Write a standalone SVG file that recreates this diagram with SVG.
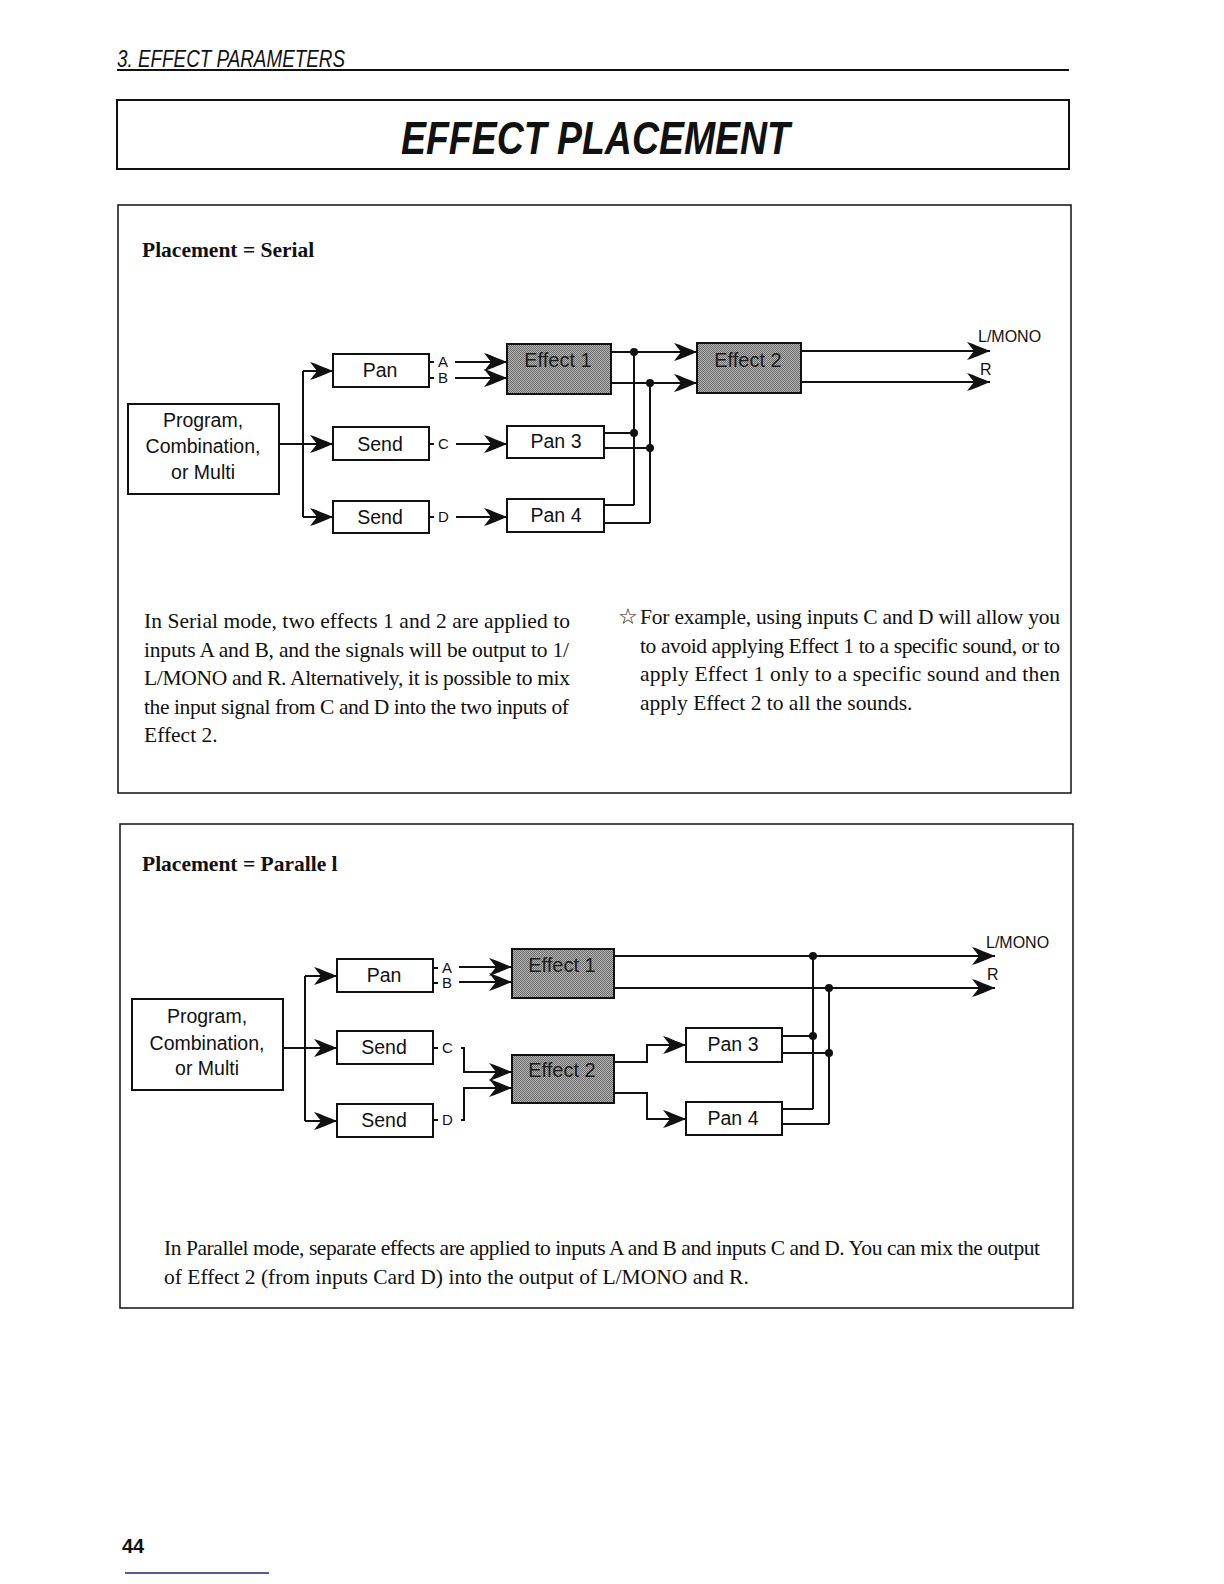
<svg xmlns="http://www.w3.org/2000/svg" width="1224" height="1584" viewBox="0 0 1224 1584">
<style>
.ln{fill:none;stroke:#111;stroke-width:2}
.bx{fill:#fff;stroke:#111;stroke-width:2}
.fx{fill:url(#dith);stroke:#111;stroke-width:2}
.lbl{font-family:"Liberation Sans",Arial,sans-serif;font-size:19.5px;fill:#111;text-anchor:middle}
.fxt{font-family:"Liberation Sans",Arial,sans-serif;font-size:20px;fill:#1e1e1e;text-anchor:middle}
.sm{font-family:"Liberation Sans",Arial,sans-serif;font-size:15px;fill:#111}
.out{font-family:"Liberation Sans",Arial,sans-serif;font-size:16px;fill:#111}
.body{font-family:"Liberation Serif","Times New Roman",serif;font-size:21.5px;fill:#111}
.hd{font-family:"Liberation Serif","Times New Roman",serif;font-size:21.5px;font-weight:bold;fill:#111}
.dot{fill:#111}
</style>
<defs>
<pattern id="dith" width="2" height="2" patternUnits="userSpaceOnUse">
<rect width="2" height="2" fill="#b0b0b0"/>
<rect width="1" height="1" fill="#707070"/>
<rect x="1" y="1" width="1" height="1" fill="#707070"/>
</pattern>
<marker id="arr" markerUnits="userSpaceOnUse" viewBox="-25 -11 27 22" refX="0" refY="0" markerWidth="27" markerHeight="22" orient="auto">
<path d="M0,0 C-8,-3 -16,-7 -23,-9 L-16,0 L-23,9 C-16,7 -8,3 0,0 Z" fill="#111"/>
</marker>
</defs>
<rect width="1224" height="1584" fill="#fff"/>

<g id="header">
<text x="117" y="67" font-family="'Liberation Sans',Arial,sans-serif" font-style="italic" font-size="23" textLength="228" lengthAdjust="spacingAndGlyphs" fill="#111">3. EFFECT PARAMETERS</text>
<line x1="117" y1="70" x2="1069" y2="70" stroke="#111" stroke-width="2"/>
<rect x="117" y="100" width="952" height="69" fill="none" stroke="#111" stroke-width="2"/>
<text x="401" y="154" font-family="'Liberation Sans',Arial,sans-serif" font-style="italic" font-weight="bold" font-size="46" textLength="389" lengthAdjust="spacingAndGlyphs" fill="#111">EFFECT PLACEMENT</text>
</g>

<!-- SERIAL -->
<g id="serial-panel">
<rect x="118" y="205" width="953" height="588" fill="none" stroke="#111" stroke-width="1.5"/>
<text class="hd" x="142" y="257">Placement = Serial</text>
</g>

<g id="serial-connectors">
<path class="ln" d="M303,371 V517"/>
<path class="ln" d="M303,371 H333" marker-end="url(#arr)"/>
<path class="ln" d="M279,444 H333" marker-end="url(#arr)"/>
<path class="ln" d="M303,517 H333" marker-end="url(#arr)"/>
<path class="ln" d="M429,362 h5 M429,378 h5 M429,444 h5 M429,517 h5"/>
<path class="ln" d="M455,362 H507" marker-end="url(#arr)"/>
<path class="ln" d="M455,378 H507" marker-end="url(#arr)"/>
<path class="ln" d="M456,444 H507" marker-end="url(#arr)"/>
<path class="ln" d="M456,517 H507" marker-end="url(#arr)"/>
<path class="ln" d="M611,352 H697" marker-end="url(#arr)"/>
<path class="ln" d="M611,383 H697" marker-end="url(#arr)"/>
<path class="ln" d="M634,352 V505 M650,383 V523"/>
<path class="ln" d="M604,433 H634 M604,448 H650 M604,505 H634 M604,523 H650"/>
<path class="ln" d="M801,351 H990" marker-end="url(#arr)"/>
<path class="ln" d="M801,382 H990" marker-end="url(#arr)"/>
<circle class="dot" cx="634" cy="352" r="4"/>
<circle class="dot" cx="650" cy="383" r="4"/>
<circle class="dot" cx="634" cy="433" r="4"/>
<circle class="dot" cx="650" cy="448" r="4"/>
<text class="sm" x="438" y="367">A</text>
<text class="sm" x="438" y="383">B</text>
<text class="sm" x="438" y="449">C</text>
<text class="sm" x="438" y="522">D</text>
<text class="out" x="978" y="342">L/MONO</text>
<text class="out" x="980" y="375">R</text>
</g>

<g id="s-program">
<rect class="bx" x="128" y="404" width="151" height="90"/>
<text class="lbl" x="203" y="427">Program,</text>
<text class="lbl" x="203" y="453">Combination,</text>
<text class="lbl" x="203" y="479">or Multi</text>
</g>
<g id="s-pan"><rect class="bx" x="333" y="354" width="96" height="33"/><text class="lbl" x="380" y="377">Pan</text></g>
<g id="s-send-c"><rect class="bx" x="333" y="427" width="96" height="33"/><text class="lbl" x="380" y="451">Send</text></g>
<g id="s-send-d"><rect class="bx" x="333" y="501" width="96" height="32"/><text class="lbl" x="380" y="524">Send</text></g>
<g id="s-effect1"><rect class="fx" x="507" y="344" width="104" height="50"/><text class="fxt" x="558" y="367">Effect 1</text></g>
<g id="s-pan3"><rect class="bx" x="507" y="426" width="97" height="32"/><text class="lbl" x="556" y="448">Pan 3</text></g>
<g id="s-pan4"><rect class="bx" x="507" y="499" width="97" height="33"/><text class="lbl" x="556" y="522">Pan 4</text></g>
<g id="s-effect2"><rect class="fx" x="697" y="343" width="104" height="50"/><text class="fxt" x="748" y="367">Effect 2</text></g>

<g id="serial-text">
<text class="body" x="144" y="628" textLength="426" lengthAdjust="spacing">In Serial mode, two effects 1 and 2 are applied to</text>
<text class="body" x="144" y="657" textLength="425" lengthAdjust="spacing">inputs A and B, and the signals will be output to 1/</text>
<text class="body" x="144" y="685" textLength="426" lengthAdjust="spacing">L/MONO and R. Alternatively, it is possible to mix</text>
<text class="body" x="144" y="714" textLength="425" lengthAdjust="spacing">the input signal from C and D into the two inputs of</text>
<text class="body" x="144" y="742">Effect 2.</text>
<text class="body" x="618" y="624">☆</text>
<text class="body" x="640" y="624" textLength="420" lengthAdjust="spacing">For example, using inputs C and D will allow you</text>
<text class="body" x="640" y="653" textLength="420" lengthAdjust="spacing">to avoid applying Effect 1 to a specific sound, or to</text>
<text class="body" x="640" y="681" textLength="420" lengthAdjust="spacing">apply Effect 1 only to a specific sound and then</text>
<text class="body" x="640" y="710">apply Effect 2 to all the sounds.</text>
</g>

<!-- PARALLEL -->
<g id="parallel-panel">
<rect x="120" y="824" width="953" height="484" fill="none" stroke="#111" stroke-width="1.5"/>
<text class="hd" x="142" y="871">Placement = Paralle l</text>
</g>

<g id="parallel-connectors">
<path class="ln" d="M305,976 V1121"/>
<path class="ln" d="M305,976 H337" marker-end="url(#arr)"/>
<path class="ln" d="M283,1048 H337" marker-end="url(#arr)"/>
<path class="ln" d="M305,1121 H337" marker-end="url(#arr)"/>
<path class="ln" d="M433,968 h5 M433,983 h5 M433,1048 h5 M433,1120 h5"/>
<path class="ln" d="M459,967 H512" marker-end="url(#arr)"/>
<path class="ln" d="M459,982 H512" marker-end="url(#arr)"/>
<path class="ln" d="M461,1048 H464 V1072 H512" marker-end="url(#arr)"/>
<path class="ln" d="M461,1120 H464 V1088 H512" marker-end="url(#arr)"/>
<path class="ln" d="M614,956 H995" marker-end="url(#arr)"/>
<path class="ln" d="M614,988 H995" marker-end="url(#arr)"/>
<path class="ln" d="M614,1062 H647 V1045 H686" marker-end="url(#arr)"/>
<path class="ln" d="M614,1093 H647 V1119 H686" marker-end="url(#arr)"/>
<path class="ln" d="M813,956 V1109 M829,988 V1124"/>
<path class="ln" d="M782,1036 H813 M782,1053 H829 M782,1109 H813 M782,1124 H829"/>
<circle class="dot" cx="813" cy="956" r="4"/>
<circle class="dot" cx="829" cy="988" r="4"/>
<circle class="dot" cx="813" cy="1036" r="4"/>
<circle class="dot" cx="829" cy="1053" r="4"/>
<text class="sm" x="442" y="973">A</text>
<text class="sm" x="442" y="988">B</text>
<text class="sm" x="442" y="1053">C</text>
<text class="sm" x="442" y="1125">D</text>
<text class="out" x="986" y="948">L/MONO</text>
<text class="out" x="987" y="980">R</text>
</g>

<g id="p-program">
<rect class="bx" x="132" y="999" width="151" height="91"/>
<text class="lbl" x="207" y="1023">Program,</text>
<text class="lbl" x="207" y="1050">Combination,</text>
<text class="lbl" x="207" y="1075">or Multi</text>
</g>
<g id="p-pan"><rect class="bx" x="337" y="959" width="96" height="33"/><text class="lbl" x="384" y="982">Pan</text></g>
<g id="p-send-c"><rect class="bx" x="337" y="1031" width="96" height="33"/><text class="lbl" x="384" y="1054">Send</text></g>
<g id="p-send-d"><rect class="bx" x="337" y="1104" width="96" height="33"/><text class="lbl" x="384" y="1127">Send</text></g>
<g id="p-effect1"><rect class="fx" x="512" y="949" width="102" height="49"/><text class="fxt" x="562" y="972">Effect 1</text></g>
<g id="p-effect2"><rect class="fx" x="512" y="1055" width="102" height="48"/><text class="fxt" x="562" y="1077">Effect 2</text></g>
<g id="p-pan3"><rect class="bx" x="686" y="1028" width="96" height="34"/><text class="lbl" x="733" y="1051">Pan 3</text></g>
<g id="p-pan4"><rect class="bx" x="686" y="1102" width="96" height="33"/><text class="lbl" x="733" y="1125">Pan 4</text></g>

<g id="parallel-text">
<text class="body" x="164" y="1255" textLength="876" lengthAdjust="spacing">In Parallel mode, separate effects are applied to inputs A and B and inputs C and D. You can mix the output</text>
<text class="body" x="164" y="1284">of Effect 2 (from inputs Card D) into the output of L/MONO and R.</text>
</g>

<g id="footer">
<text x="122" y="1553" font-family="'Liberation Sans',Arial,sans-serif" font-weight="bold" font-size="20" fill="#111">44</text>
<line x1="125" y1="1573" x2="269" y2="1573" stroke="#1a237e" stroke-width="1.5"/>
</g>
</svg>
